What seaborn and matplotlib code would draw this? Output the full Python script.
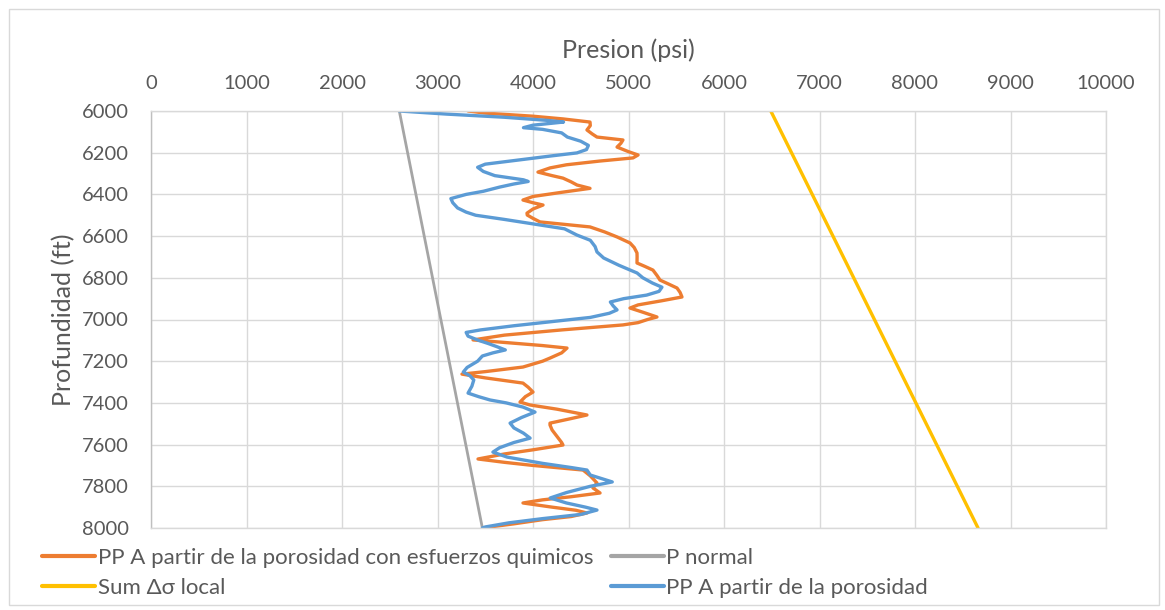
import matplotlib
matplotlib.use("Agg")
import matplotlib.pyplot as plt
import seaborn as sns
import pandas as pd
from matplotlib.lines import Line2D
from matplotlib.patches import Rectangle

# ---------------- data ----------------
depth_chem = [6000, 6010, 6025, 6038, 6053, 6070, 6091, 6110, 6125, 6139, 6155, 6173, 6195, 6211, 6225,
              6240, 6258, 6273, 6293, 6310, 6322, 6340, 6355, 6371, 6390, 6410, 6427, 6440, 6451, 6470,
              6490, 6499, 6515, 6532, 6556, 6580, 6604, 6633, 6655, 6681, 6700, 6729, 6745, 6763, 6790,
              6811, 6830, 6849, 6870, 6892, 6910, 6930, 6945, 6965, 6988, 7000, 7015, 7026, 7050, 7075,
              7098, 7110, 7125, 7137, 7160, 7185, 7200, 7228, 7250, 7262, 7280, 7305, 7325, 7348, 7370,
              7396, 7410, 7430, 7458, 7475, 7497, 7506, 7530, 7560, 7590, 7602, 7625, 7645, 7669, 7685,
              7700, 7722, 7750, 7784, 7808, 7832, 7850, 7865, 7880, 7900, 7915, 7928, 7945, 7960, 7980,
              7995, 8000]
pp_chem = [3320, 3500, 4000, 4314, 4597, 4600, 4565, 4620, 4670, 4942, 4920, 4880, 5000, 5100, 5047,
           4700, 4350, 4178, 4052, 4200, 4314, 4400, 4461, 4597, 4300, 4000, 3895, 4000, 4105, 4000,
           3937, 3940, 4000, 4073, 4597, 4750, 4880, 5016, 5060, 5089, 5090, 5089, 5170, 5256, 5300,
           5330, 5420, 5508, 5540, 5560, 5350, 5100, 5016, 5150, 5298, 5200, 5100, 4942, 4300, 3700,
           3372, 3700, 4100, 4356, 4300, 4178, 4100, 3895, 3500, 3256, 3500, 3895, 3950, 4000, 3920,
           3864, 3969, 4250, 4565, 4400, 4178, 4178, 4200, 4250, 4300, 4314, 4000, 3700, 3424, 3700,
           4000, 4524, 4600, 4670, 4628, 4702, 4400, 4100, 3895, 4200, 4450, 4565, 4400, 4100, 3800,
           3550, 3500]

depth_por = [6000, 6003, 6015, 6030, 6045, 6053, 6068, 6080, 6088, 6105, 6125, 6145, 6165, 6185, 6201,
             6215, 6235, 6255, 6270, 6290, 6310, 6330, 6338, 6350, 6365, 6385, 6400, 6420, 6440, 6465,
             6485, 6500, 6520, 6545, 6565, 6595, 6620, 6650, 6676, 6705, 6740, 6777, 6800, 6825, 6845,
             6865, 6883, 6900, 6916, 6935, 6954, 6970, 6990, 7010, 7030, 7050, 7062, 7080, 7100, 7115,
             7130, 7146, 7160, 7175, 7200, 7230, 7252, 7270, 7290, 7320, 7353, 7370, 7386, 7400, 7420,
             7444, 7470, 7497, 7520, 7545, 7569, 7590, 7615, 7636, 7660, 7690, 7710, 7722, 7746, 7779,
             7800, 7830, 7856, 7880, 7900, 7914, 7935, 7955, 7975, 7995, 8000]
pp_por = [2600, 2700, 3100, 3700, 4150, 4320, 4000, 3900, 4100, 4300, 4360, 4500, 4580, 4560, 4460,
          4200, 3850, 3500, 3420, 3480, 3600, 3900, 3950, 3800, 3650, 3480, 3300, 3140, 3160, 3210,
          3300, 3400, 3700, 4050, 4330, 4460, 4600, 4650, 4670, 4740, 4900, 5090, 5150, 5250, 5350,
          5320, 5190, 4950, 4810, 4840, 4880, 4800, 4600, 4200, 3800, 3450, 3300, 3320, 3430, 3530,
          3620, 3710, 3580, 3470, 3420, 3310, 3270, 3340, 3380, 3360, 3320, 3430, 3550, 3720, 3895,
          4021, 3880, 3760, 3800, 3900, 3970, 3800, 3650, 3580, 3730, 4100, 4400, 4565, 4600, 4830,
          4600, 4350, 4180, 4350, 4550, 4670, 4500, 4100, 3750, 3500, 3470]

depth_normal = [6000, 8000]
p_normal = [2600, 3470]

depth_sum = [6000, 8000]
p_sum = [6490, 8660]

x_ticks = [0, 1000, 2000, 3000, 4000, 5000, 6000, 7000, 8000, 9000, 10000]
y_ticks = [6000, 6200, 6400, 6600, 6800, 7000, 7200, 7400, 7600, 7800, 8000]

labels = ["PP A partir de la porosidad con esfuerzos quimicos", "P normal",
          "Sum \u0394\u03c3 local", "PP A partir de la porosidad"]
colors = ["#ED7D31", "#A5A5A5", "#FFC000", "#5B9BD5"]

# ---------------- style ----------------
sns.set_theme(style="white")
plt.rcParams["font.family"] = ["Lato", "DejaVu Sans"]
text_color = "#595959"
grid_color = "#D9D9D9"

W, H = 1165, 610
fig = plt.figure(figsize=(W / 100, H / 100), dpi=100)
ax = fig.add_axes([151 / W, 1 - 528 / H, (1106 - 151) / W, (528 - 111) / H])

df_chem = pd.DataFrame({"p": pp_chem, "d": depth_chem})
df_por = pd.DataFrame({"p": pp_por, "d": depth_por})
df_norm = pd.DataFrame({"p": p_normal, "d": depth_normal})
df_sum = pd.DataFrame({"p": p_sum, "d": depth_sum})

kw = dict(x="p", y="d", sort=False, estimator=None, ax=ax,
          solid_joinstyle="round", solid_capstyle="round")
sns.lineplot(data=df_chem, color=colors[0], lw=2.4, **kw)
sns.lineplot(data=df_norm, color=colors[1], lw=2.0, **kw)
sns.lineplot(data=df_sum, color=colors[2], lw=2.4, **kw)
sns.lineplot(data=df_por, color=colors[3], lw=2.4, **kw)

ax.set_xlim(0, 10000)
ax.set_ylim(8000, 6000)
ax.set_xticks(x_ticks)
ax.set_yticks(y_ticks)
ax.xaxis.tick_top()
ax.xaxis.set_label_position("top")
ax.tick_params(axis="both", length=0, labelsize=14.5, labelcolor=text_color)
ax.tick_params(axis="x", pad=14)
ax.tick_params(axis="y", pad=16)
ax.grid(True, color=grid_color, lw=1.0)
ax.set_axisbelow(True)
for s in ax.spines.values():
    s.set_color(grid_color)
    s.set_linewidth(1.0)
ax.spines["left"].set_color("#BFBFBF")

ax.set_xlabel("Presion (psi)", fontsize=18, color=text_color, labelpad=12)
ax.set_ylabel("Profundidad (ft)", fontsize=18, color=text_color, labelpad=5)

handles = [Line2D([], [], color=colors[i], lw=3) for i in [0, 2, 1, 3]]
leg_labels = [labels[i] for i in [0, 2, 1, 3]]
fig.legend(handles, leg_labels, ncol=2, loc="upper left",
           bbox_to_anchor=(42 / W, 1 - 548 / H), frameon=False, fontsize=16,
           handlelength=2.4, handletextpad=0.1, columnspacing=0.8, labelspacing=0.44,
           borderpad=0, borderaxespad=0, labelcolor=text_color)

fig.patches.append(Rectangle((9 / W, 5 / H), 1150 / W, 596 / H, transform=fig.transFigure,
                             fill=False, edgecolor=grid_color, lw=1.0))

fig.savefig("out.png", dpi=100, facecolor="white")
